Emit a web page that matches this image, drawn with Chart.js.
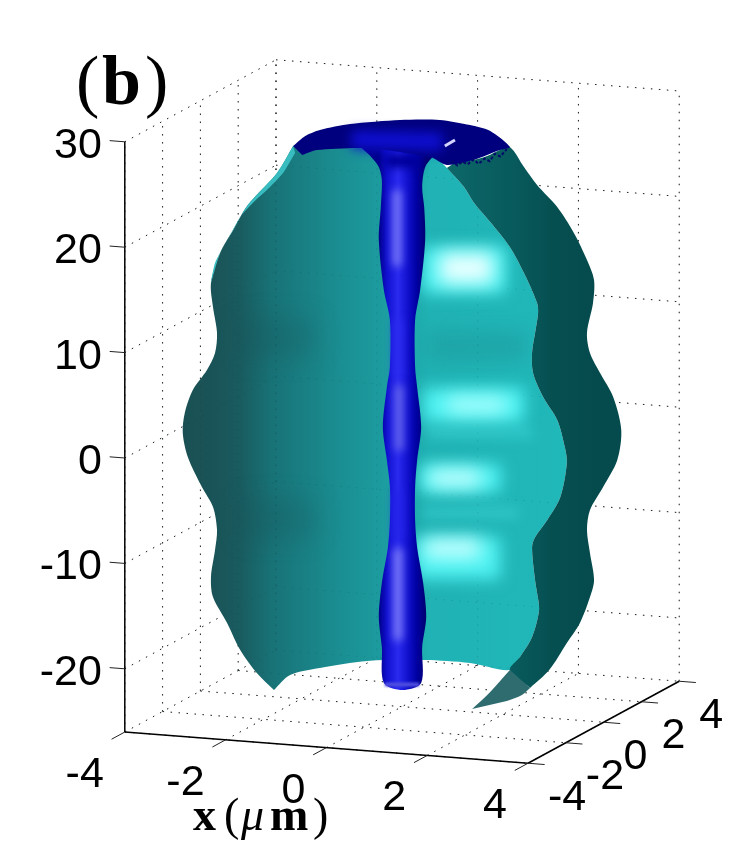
<!DOCTYPE html>
<html lang="en">

<head>
    <meta charset="UTF-8">
    <title>Isosurface (b)</title>
    <style>
        body { margin: 0; background: #fff; }
        canvas { display: block; }
    </style>
</head>

<body>
    <canvas id="myChart" width="734" height="858"></canvas>
    <script src="https://cdn.jsdelivr.net/npm/chart.js"></script>
    <script>
    // axis ticks, box is x,y in [-4,4] and z in [-26,30]
    const xTicks = [-4, -2, 0, 2, 4]
    const yTicks = [-4, -2, 0, 2, 4]
    const zTicks = [-20, -10, 0, 10, 20, 30]
    const boxZ = [-26, 30]

    // outlines below are [u, w], the projected coordinates of the 3d view
    const leftEdge = [[-2.16,27.19],[-2.48,24.63],[-3.06,21.59],[-3.35,19.22],[-3.61,17.04],[-3.79,14.19],[-3.75,11.92],[-3.67,9.45],[-3.71,7.55],[-3.87,5.94],[-4.15,4.04],[-4.31,1.86],[-4.35,-0.04],[-4.25,-2.31],[-3.97,-5.16],[-3.75,-7.06],[-3.67,-9.24],[-3.71,-11.14],[-3.79,-13.70],[-3.75,-15.60],[-3.47,-18.06],[-3.21,-20.63],[-2.88,-22.81],[-2.54,-24.42],[-2.54,-24.42]]
    const bottomArc = [[-2.22,-23.0],[-1.63,-22.33],[-0.69,-21.67],[0.44,-21.58],[1.35,-21.86]]
    const innerEdge = [[2.14,-22.53],[2.34,-21.29],[2.58,-19.39],[2.72,-16.83],[2.68,-15.22],[2.64,-14.0],[2.58,-10.87],[2.64,-9.92],[2.88,-8.31],[3.14,-6.13],[3.27,-2.90],[3.23,-1.37],[3.08,1.20],[2.80,3.38],[2.60,5.65],[2.58,7.55],[2.64,9.45],[2.70,11.35],[2.68,12.30],[2.42,15.14],[2.14,17.61],[1.75,19.98],[1.43,21.78],[1.23,23.30],[0.89,25.10]]
    const shellTop = [[0.56,26.5],[-1.0,27.5],[-1.8,27.2]]
    const rimTop = [[0.89,25.10],[1.15,25.86],[1.41,25.86],[1.69,26.24],[1.94,26.81],[2.14,27.10]]
    const rightEdge = [[2.42,25.20],[2.68,23.49],[3.08,21.40],[3.41,18.94],[3.67,16.38],[3.81,14.48],[3.79,12.30],[3.67,9.45],[3.73,7.55],[3.93,5.65],[4.19,3.38],[4.35,0.25],[4.27,-2.62],[3.99,-5.16],[3.73,-7.35],[3.67,-9.24],[3.73,-11.44],[3.81,-14.0],[3.73,-15.60],[3.53,-18.06],[3.27,-19.96],[2.92,-22.53],[2.54,-24.23],[2.54,-24.23]]
    const lowerFlap = [[1.39,-26.23],[1.39,-26.23],[1.75,-24.61],[2.14,-22.53],[2.14,-22.53],[2.54,-24.23],[2.54,-24.23],[2.38,-24.90],[2.08,-25.47]]
    const sliver = [[-2.16,27.19],[-2.48,24.63],[-3.06,21.59],[-3.35,19.22],[-3.61,17.04],[-3.79,14.19],[-3.71,16.09],[-3.47,18.27],[-3.21,20.46],[-2.96,21.78],[-2.62,23.30],[-2.36,24.63],[-2.12,26.53]]
    const tubeLeft = [[-0.80,27.0],[-0.62,26.2],[-0.46,25.2],[-0.40,23.97],[-0.42,21.4],[-0.46,18.27],[-0.36,13.53],[-0.24,10.68],[-0.24,6.22],[-0.30,4.33],[-0.38,0.53],[-0.30,-2.62],[-0.24,-5.16],[-0.24,-8.31],[-0.28,-10.87],[-0.40,-14.27],[-0.46,-17.49],[-0.40,-20.34],[-0.36,-23.75],[0.01,-24.42]]
    const tubeRight = [[0.38,-23.75],[0.40,-20.34],[0.48,-17.49],[0.42,-14.27],[0.30,-10.87],[0.26,-8.31],[0.26,-5.16],[0.30,-2.62],[0.38,0.53],[0.30,4.33],[0.26,6.22],[0.26,10.68],[0.36,13.53],[0.46,18.27],[0.44,21.4],[0.40,23.3],[0.46,25.2],[0.62,26.2],[0.85,27.0]]
    const disc = [[-2.16,27.19],[-1.92,28.14],[-1.63,28.71],[-1.03,29.28],[-0.04,29.66],[0.75,29.66],[1.35,29.18],[1.75,28.62],[2.14,27.10],[1.94,26.81],[1.41,25.86],[0.89,25.40],[0.56,26.15],[-0.69,26.99],[-1.69,26.81],[-1.98,26.34]]
    const fringe = [[0.89,25.5],[1.0,25.75],[1.1,25.35],[1.2,25.7],[1.3,25.45],[1.42,25.9],[1.52,25.5],[1.64,26.0],[1.74,25.75],[1.84,26.45],[1.95,26.2],[2.08,26.9]]

    // bright and dim bands on the shell, [uFrom, uTo, w]
    const glowOuter = [[0.40,2.06,15.43],[0.42,2.42,2.62],[0.36,1.96,-4.33],[0.26,1.95,-11.9]]
    const glowCore = [[0.75,1.80,15.6],[0.9,2.05,2.62],[0.55,1.55,-4.33],[0.45,1.55,-11.0]]
    const glowFaint = [[0.5,2.6,-0.04],[0.4,2.3,-7.6]]
    const shadeLeft = [[-3.2,-1.7,9.0],[-3.2,-1.7,-8.2]]
    const shadeRight = [[0.5,2.5,8.2]]
    // lit stripes along the tube, [u, wFrom, wTo]
    const tubeLight = [[-0.10,23.0,15.8],[-0.08,10.7,5.0],[-0.06,4.5,-1.7],[-0.08,-5.4,-10.2],[-0.08,-11.0,-19.7]]

    const xScaleRange = [-7.976, 6.587]
    const yScaleRange = [-40.36, 41.044]

    const tubeLightColors = ["#8080f8", "#2c2cf0", "#6a6aec", "#2222e8", "#8484f8"]
    const glowOuterWidths = [46, 34, 28, 42]
    const glowCoreWidths = [30, 14, 16, 18]
    const glowCoreColors = ["#e8ffff", "#b8ffff", "#ccffff", "#ccffff"]
    const gridColor = "#222"
    const surfaceStops = [[-4.35,"#1a5054"],[-3.7,"#1a5458"],[-3.2,"#195c60"],[-2.6,"#187276"],[-1.3,"#1a8d91"],[-0.45,"#1c9b9e"],[0.55,"#20b2b4"],[3.2,"#21b8ba"]]
    const bandStops = [[1.0,"#0c6668"],[2.2,"#085a5c"],[3.0,"#064f51"],[3.9,"#054a4c"]]
    const tubeStops = [[-0.46,"#00008c"],[-0.3,"#1010d0"],[-0.08,"#2a2af0"],[0.12,"#1010cc"],[0.3,"#0000a0"],[0.48,"#000070"]]

    // same view as the 3d plot, (x, y, z) to (u, w)
    function project(x, y, z) {
        return [x + 0.375 * y, z - 0.37 * x + 0.9725 * y]
    }

    function toPoints(list) {
        return list.map(p => ({ x: p[0], y: p[1] }))
    }

    function gradient(chart, stops) {
        const scale = chart.scales.x
        if (!scale || !chart.chartArea) return stops[0][1]
        const from = stops[0][0], to = stops[stops.length - 1][0]
        const grad = chart.ctx.createLinearGradient(scale.getPixelForValue(from), 0, scale.getPixelForValue(to), 0)
        stops.forEach(s => grad.addColorStop((s[0] - from) / (to - from), s[1]))
        return grad
    }

    let datasets = []

    function addShape(list, color, extra) {
        datasets.push(Object.assign({
            data: toPoints(list), showLine: true, pointRadius: 0, borderWidth: 0,
            fill: "shape", backgroundColor: color, tension: 0.3, order: -datasets.length
        }, extra))
    }

    function addLine(list, color, width, extra) {
        datasets.push(Object.assign({
            data: toPoints(list), showLine: true, pointRadius: 0, borderWidth: width,
            borderColor: color, fill: false, tension: 0, order: -datasets.length
        }, extra))
    }

    // dotted grid on the two back walls and the floor
    function addGrid(color) {
        const dotted = { borderDash: [1.5, 6.5] }
        xTicks.forEach(x => {
            addLine([project(x, 4, boxZ[0]), project(x, 4, boxZ[1])], color, 1, dotted)
            addLine([project(x, -4, boxZ[0]), project(x, 4, boxZ[0])], color, 1, dotted)
        })
        yTicks.forEach(y => {
            addLine([project(-4, y, boxZ[0]), project(-4, y, boxZ[1])], color, 1, dotted)
            addLine([project(-4, y, boxZ[0]), project(4, y, boxZ[0])], color, 1, dotted)
        })
        zTicks.forEach(z => {
            addLine([project(-4, -4, z), project(-4, 4, z)], color, 1, dotted)
            addLine([project(-4, 4, z), project(4, 4, z)], color, 1, dotted)
        })
    }
    addGrid(gridColor)

    // axes and their tick marks
    addLine([project(-4, -4, boxZ[0]), project(-4, -4, boxZ[1])], "#000", 1.5)
    addLine([project(-4, -4, boxZ[0]), project(4, -4, boxZ[0])], "#000", 1.5)
    addLine([project(4, -4, boxZ[0]), project(4, 4, boxZ[0])], "#000", 1.5)
    zTicks.forEach(z => addLine([project(-4, -4, z), project(-4.3, -4, z)], "#222", 1))
    xTicks.forEach(x => addLine([project(x, -4, boxZ[0]), project(x, -4.7, boxZ[0])], "#222", 1))
    yTicks.forEach(y => addLine([project(4, y, boxZ[0]), project(4.33, y, boxZ[0])], "#222", 1))

    // main shell, then the grid again very faint as it shows through
    addShape(leftEdge.concat(bottomArc, innerEdge, shellTop), c => gradient(c.chart, surfaceStops))
    addGrid("rgba(0,40,40,0.14)")

    const bandLine = r => [[r[0], r[2]], [r[1], r[2]]]
    shadeLeft.forEach(r => addLine(bandLine(r), "rgba(20,70,75,0.2)", 40, { blur: 12 }))
    shadeRight.forEach(r => addLine(bandLine(r), "rgba(20,110,115,0.2)", 30, { blur: 10 }))
    glowFaint.forEach(r => addLine(bandLine(r), "rgba(80,235,235,0.3)", 12, { blur: 6 }))
    glowOuter.forEach((r, i) => addLine(bandLine(r), "#4ff2f2", glowOuterWidths[i], { blur: 8 }))
    glowCore.forEach((r, i) => addLine(bandLine(r), glowCoreColors[i], glowCoreWidths[i], { blur: 9 }))

    // dark outside of the shell on the right, then the flap and the left sliver
    addShape(rimTop.concat(rightEdge, innerEdge), c => gradient(c.chart, bandStops))
    addShape(lowerFlap, "#2f6c70")
    addShape(sliver, "#38bcc0", { tension: 0.2 })

    // central tube
    addShape(tubeLeft.concat(tubeRight), c => gradient(c.chart, tubeStops))
    addLine([[-0.34, -23.9], [0.34, -23.9]], "#5050e0", 4, { blur: 1 })
    tubeLight.forEach((r, i) => {
        addLine([[r[0], r[1]], [r[0], r[2]]], tubeLightColors[i], 8, { blur: 4 })
    })
    addLine([[-0.34, 25.8], [0.36, 25.8]], "#00009a", 14, { blur: 4 })

    // flared top of the tube
    addShape(disc, "#00007e", { tension: 0.25 })
    addLine([[-1.0, 27.8], [0.8, 27.6]], "#0e0ed0", 18, { blur: 6 })
    addLine([[0.85, 27.19], [1.05, 27.76]], "#d4d4ff", 3, { blur: 0.6 })
    addLine(fringe, "#020a6b", 2, { borderDash: [3, 2] })

    // text that sits on the 3d axes, drawn through the same scales
    const axisText = {
        id: "axisText",
        afterDatasetsDraw(chart) {
            const ctx = chart.ctx
            const sx = chart.scales.x, sy = chart.scales.y
            const at = p => [sx.getPixelForValue(p[0]), sy.getPixelForValue(p[1])]
            ctx.save()
            ctx.fillStyle = "#000"
            ctx.textBaseline = "alphabetic"
            ctx.font = '43px "Liberation Sans"'
            ctx.textAlign = "right"
            zTicks.forEach(z => {
                const p = at(project(-4, -4, z))
                ctx.fillText(String(z), p[0] - 23, p[1] + 16)
            })
            xTicks.forEach(x => {
                const p = at(project(x, -4, boxZ[0]))
                ctx.fillText(String(x), p[0] - 21, p[1] + 55)
            })
            ctx.textAlign = "left"
            yTicks.forEach(y => {
                const p = at(project(4, y, boxZ[0]))
                ctx.fillText(String(y), p[0] + 20, p[1] + 46.5)
            })
            // panel letter
            ctx.font = '70px "Liberation Serif"'
            ctx.fillText("(", 76, 104)
            ctx.fillText(")", 145, 104)
            ctx.font = 'bold 70px "Liberation Serif"'
            ctx.fillText("b", 102, 104)
            // x label
            ctx.font = 'bold 46px "Liberation Serif"'
            ctx.fillText("x", 193, 830)
            ctx.fillText("m", 270, 830)
            ctx.font = '46px "Liberation Serif"'
            ctx.fillText("(", 224, 830)
            ctx.fillText(")", 313, 830)
            ctx.font = 'italic 46px "Liberation Serif"'
            ctx.fillText("μ", 241, 830)
            ctx.restore()
        }
    }

    // blurred strokes give the soft shading
    const softLines = {
        id: "softLines",
        beforeDatasetDraw(chart, args) {
            const blur = chart.data.datasets[args.index].blur
            if (!blur) return
            chart.ctx.save()
            chart.ctx.filter = "blur(" + blur + "px)"
        },
        afterDatasetDraw(chart, args) {
            if (chart.data.datasets[args.index].blur) chart.ctx.restore()
        }
    }

    let chart = new Chart(document.getElementById("myChart"), {
        type: "scatter",
        data: { datasets: datasets },
        options: {
            responsive: false,
            animation: false,
            events: [],
            layout: { padding: 0 },
            plugins: { legend: { display: false }, tooltip: { enabled: false } },
            scales: {
                x: { display: false, min: xScaleRange[0], max: xScaleRange[1] },
                y: { display: false, min: yScaleRange[0], max: yScaleRange[1] }
            }
        },
        plugins: [softLines, axisText]
    })
    </script>
</body>

</html>
